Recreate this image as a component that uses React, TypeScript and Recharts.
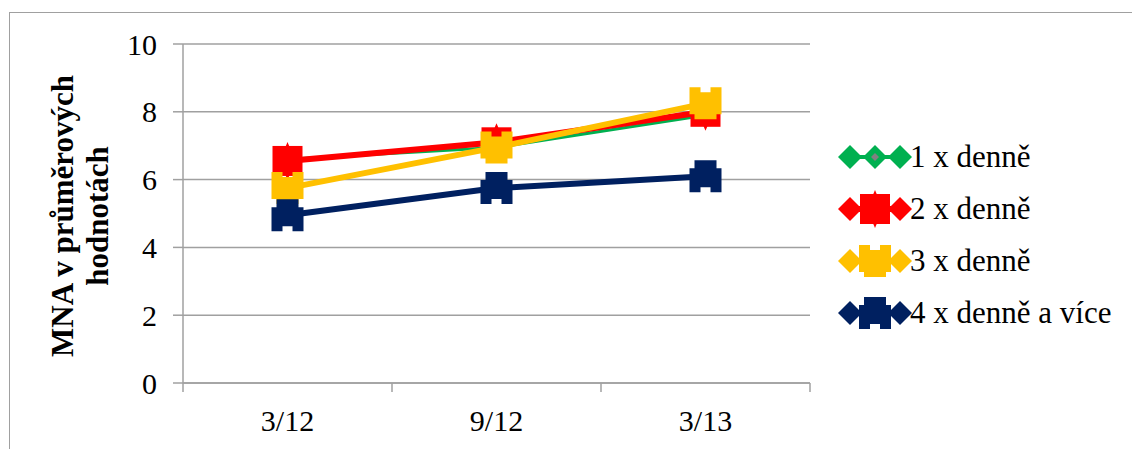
import React from 'react';
import { LineChart, Line, XAxis, YAxis, CartesianGrid } from 'recharts';

const categories = ['3/12', '9/12', '3/13'];
const once = [6.6, 6.95, 7.9];
const twice = [6.55, 7.1, 8.0];
const thrice = [5.75, 6.95, 8.25];
const fourPlus = [4.95, 5.75, 6.1];
const yTicks = [0, 2, 4, 6, 8, 10];
const seriesNames = ['1 x denně', '2 x denně', '3 x denně', '4 x denně a více'];

const data = categories.map((c, i) => ({
  x: i + 0.5,
  cat: c,
  once: once[i],
  twice: twice[i],
  thrice: thrice[i],
  fourPlus: fourPlus[i],
}));

const GRAY = '#a0a0a0';
const FONT = '"Liberation Serif", "Times New Roman", serif';
const COLORS = ['#00b050', '#ff0000', '#ffc000', '#002060'];

function shapePath(kind: string, cx: number, cy: number): React.ReactNode {
  if (kind === 'diamond') {
    const h = 12;
    return (
      <path d={`M${cx - h},${cy} L${cx},${cy - h} L${cx + h},${cy} L${cx},${cy + h} Z`} />
    );
  }
  if (kind === 'red') {
    const h = 15;
    return (
      <g>
        <path d={`M${cx - 8},${cy} L${cx},${cy - 19} L${cx + 8},${cy} L${cx},${cy + 19} Z`} />
        <rect x={cx - h} y={cy - h} width={2 * h} height={2 * h} />
      </g>
    );
  }
  if (kind === 'yellow') {
    const h = 16;
    const n = 5;
    const w = 5;
    return (
      <path
        d={`M${cx - h},${cy - h} L${cx - w},${cy - h} L${cx - w},${cy - h + n} L${cx + w},${cy - h + n} L${cx + w},${cy - h} L${cx + h},${cy - h} L${cx + h},${cy + h - n} L${cx + h - n},${cy + h - n} L${cx + h - n},${cy + h} L${cx - h + n},${cy + h} L${cx - h + n},${cy + h - n} L${cx - h},${cy + h - n} Z`}
      />
    );
  }
  const h = 16;
  const n = 5;
  return (
    <path
      d={`M${cx - h + n},${cy - h} L${cx + h - n},${cy - h} L${cx + h - n},${cy - h + 8} L${cx + h},${cy - h + 8} L${cx + h},${cy + h} L${cx + 5},${cy + h} L${cx + 5},${cy + h - n} L${cx - 5},${cy + h - n} L${cx - 5},${cy + h} L${cx - h},${cy + h} L${cx - h},${cy - h + 8} L${cx - h + n},${cy - h + 8} Z`}
    />
  );
}

const KINDS = ['diamond', 'red', 'yellow', 'navy'];

const makeDot = (idx: number) => (props: any) => {
  const { cx, cy, index } = props;
  if (cx == null || cy == null) return <g key={index} />;
  return (
    <g key={`d${idx}-${index}`} fill={COLORS[idx]}>
      {shapePath(KINDS[idx], cx, cy)}
    </g>
  );
};

const XTick = (props: any) => {
  const { x, y, payload } = props;
  const v = payload.value as number;
  if (Number.isInteger(v)) {
    return <line x1={x} y1={y} x2={x} y2={y + 9} stroke={GRAY} strokeWidth={1.5} />;
  }
  const label = categories[Math.floor(v)];
  return (
    <text x={x} y={y + 48} textAnchor="middle" fontFamily={FONT} fontSize={30} fill="#000">
      {label}
    </text>
  );
};

const YLabel = () => (
  <text
    transform="translate(73, 216) rotate(-90)"
    textAnchor="middle"
    fontFamily={FONT}
    fontSize={31}
    fontWeight="bold"
    fill="#000"
  >
    <tspan x={0} dy={0}>MNA v průměrových</tspan>
    <tspan x={0} dy={35}>hodnotách</tspan>
  </text>
);

const LegendBox = () => (
  <div style={{ position: 'absolute', left: 838, top: 131, fontFamily: FONT, fontSize: 31, color: '#000' }}>
    {seriesNames.map((name, i) => (
      <div key={name} style={{ display: 'flex', alignItems: 'center', height: 52 }}>
        <svg width={74} height={44} style={{ display: 'block' }}>
          <g fill={COLORS[i]}>
            <line x1={12} y1={22} x2={62} y2={22} stroke={COLORS[i]} strokeWidth={i === 0 ? 4 : 6} />
            <path d="M0,22 L12,10 L24,22 L12,34 Z" />
            <path d="M50,22 L62,10 L74,22 L62,34 Z" />
            {shapePath(KINDS[i], 37, 22)}
            {i === 0 && <path d="M33,22 L37,18 L41,22 L37,26 Z" fill="#808080" />}
          </g>
        </svg>
        <span style={{ marginLeft: -2, lineHeight: '44px', whiteSpace: 'nowrap' }}>{name}</span>
      </div>
    ))}
  </div>
);

export default function App() {
  return (
    <div style={{ position: 'absolute', left: 0, top: 0, width: 1132, height: 449, background: '#fff', overflow: 'hidden' }}>
      <div
        style={{
          position: 'absolute',
          left: 9,
          top: 12,
          width: 1200,
          height: 500,
          borderLeft: `1px solid ${GRAY}`,
          borderTop: `1px solid ${GRAY}`,
        }}
      />
      <div style={{ position: 'absolute', left: 0, top: 0 }}>
        <LineChart width={1132} height={449} data={data} margin={{ top: 44, right: 322, bottom: 0, left: 123 }}>
          <CartesianGrid horizontal vertical={false} stroke={GRAY} strokeWidth={1.5} />
          <XAxis
            dataKey="x"
            type="number"
            domain={[0, 3]}
            ticks={[0, 0.5, 1, 1.5, 2, 2.5, 3]}
            interval={0}
            tickLine={false}
            tickSize={0}
            tickMargin={0}
            tick={<XTick />}
            axisLine={{ stroke: GRAY, strokeWidth: 1.5 }}
            height={66}
          />
          <YAxis
            type="number"
            domain={[0, 10]}
            ticks={yTicks}
            interval={0}
            width={60}
            tickSize={10}
            tickMargin={16}
            tickLine={{ stroke: GRAY, strokeWidth: 1.5 }}
            axisLine={{ stroke: GRAY, strokeWidth: 1.5 }}
            tick={{ fontFamily: FONT, fontSize: 30, fill: '#000' }}
            label={<YLabel />}
          />
          <Line dataKey="once" stroke={COLORS[0]} strokeWidth={3} dot={makeDot(0)} isAnimationActive={false} />
          <Line dataKey="twice" stroke={COLORS[1]} strokeWidth={6} dot={makeDot(1)} isAnimationActive={false} />
          <Line dataKey="thrice" stroke={COLORS[2]} strokeWidth={6} dot={makeDot(2)} isAnimationActive={false} />
          <Line dataKey="fourPlus" stroke={COLORS[3]} strokeWidth={6} dot={makeDot(3)} isAnimationActive={false} />
        </LineChart>
      </div>
      <LegendBox />
    </div>
  );
}
